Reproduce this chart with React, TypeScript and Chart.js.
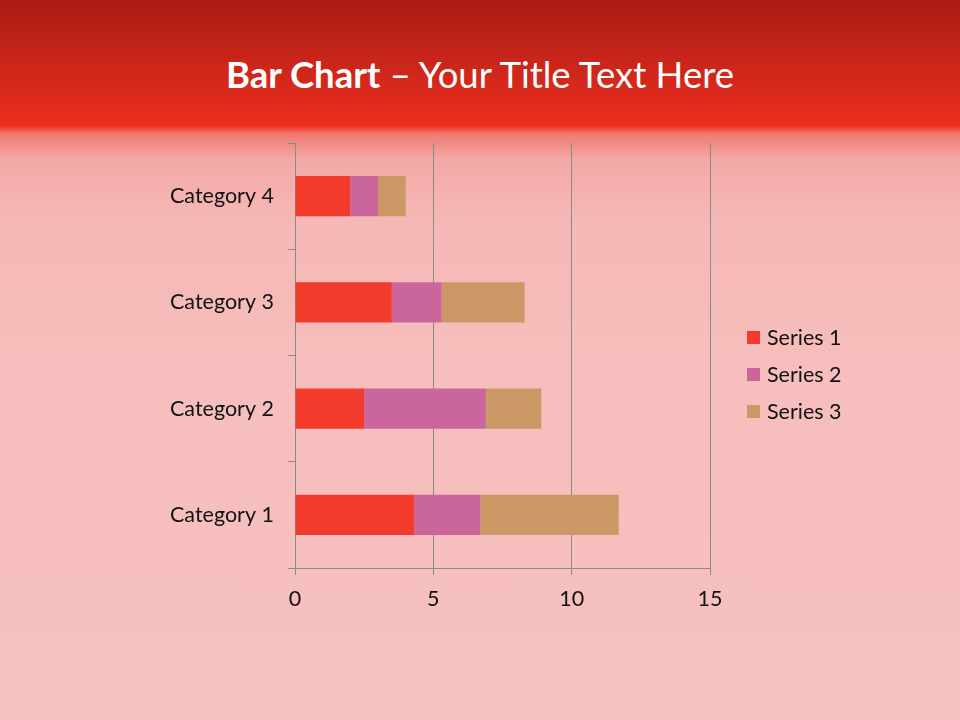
import React, { useEffect, useRef } from "react";
import { Chart, registerables } from "chart.js";

Chart.register(...registerables);

const categories = ["Category 1", "Category 2", "Category 3", "Category 4"];
const series1 = [4.3, 2.5, 3.5, 2];
const series2 = [2.4, 4.4, 1.8, 1];
const series3 = [5, 2, 3, 1];
const seriesNames = ["Series 1", "Series 2", "Series 3"];
const seriesColors = ["#F23B2D", "#CA669C", "#CC9966"];
const xTicks = { min: 0, max: 15, step: 5 };

const FONT = "Lato, 'Open Sans', sans-serif";

const legendPlugin = {
  id: "customLegend",
  afterDraw(chart: any) {
    const ctx = chart.ctx;
    ctx.save();
    ctx.font = `21.5px ${FONT}`;
    ctx.textBaseline = "middle";
    ctx.textAlign = "left";
    chart.data.datasets.forEach((ds: any, i: number) => {
      const y = 337 + i * 37;
      ctx.fillStyle = ds.backgroundColor;
      ctx.fillRect(747, y - 6, 13, 13);
      ctx.fillStyle = "#111111";
      ctx.fillText(ds.label, 767, y + 1);
    });
    ctx.restore();
  },
};

export default function App() {
  const ref = useRef<HTMLCanvasElement>(null);
  useEffect(() => {
    document.body.style.margin = "0";
    const chart = new Chart(ref.current!, {
      type: "bar",
      data: {
        labels: categories,
        datasets: [series1, series2, series3].map((d, i) => ({
          label: seriesNames[i],
          data: d,
          backgroundColor: seriesColors[i],
          borderWidth: 0,
          barPercentage: 0.38,
          categoryPercentage: 1,
        })),
      },
      options: {
        indexAxis: "y",
        animation: false,
        responsive: false,
        maintainAspectRatio: false,
        layout: { padding: { left: 0, top: 143, right: 250, bottom: 0 } },
        plugins: { legend: { display: false }, tooltip: { enabled: false }, title: { display: false } },
        scales: {
          x: {
            stacked: true,
            min: xTicks.min,
            max: xTicks.max,
            ticks: { stepSize: xTicks.step, color: "#111111", font: { family: FONT, size: 21.5 }, padding: 11 },
            grid: { color: "#8a8a8a", lineWidth: 1, tickLength: 7, drawOnChartArea: true },
            border: { color: "#8a8a8a" },
            afterFit: (s: any) => { s.height = 152; },
          },
          y: {
            stacked: true,
            reverse: true,
            ticks: { color: "#111111", font: { family: FONT, size: 21.5 }, padding: 14 },
            grid: { color: "#8a8a8a", offset: true, drawOnChartArea: false, tickLength: 7 },
            border: { color: "#8a8a8a" },
            afterFit: (s: any) => { s.width = 295; },
          },
        },
      },
      plugins: [legendPlugin],
    } as any);
    return () => chart.destroy();
  }, []);

  return (
    <div
      style={{
        position: "relative",
        width: 960,
        height: 720,
        overflow: "hidden",
        background:
          "linear-gradient(to bottom, #A91B12 0px, #C9251A 60px, #EC2E1E 126px, #F07A72 134px, #F3A9A6 160px, #F5B8B6 220px, #F6BFBD 400px, #F6C0BE 720px)",
      }}
    >
      <div
        style={{
          position: "absolute",
          top: 50,
          left: 0,
          width: 960,
          textAlign: "center",
          color: "#ffffff",
          fontFamily: FONT,
          fontSize: 36.5,
          lineHeight: "48px",
        }}
      >
        <span style={{ fontWeight: "bold" }}>Bar Chart</span> – Your Title Text Here
      </div>
      <canvas ref={ref} width={960} height={720} style={{ position: "absolute", left: 0, top: 0 }} />
    </div>
  );
}
